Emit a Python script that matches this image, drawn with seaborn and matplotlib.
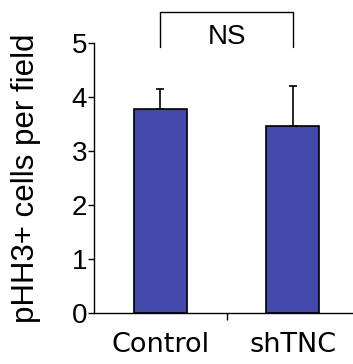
import matplotlib
matplotlib.use("Agg")
import matplotlib.pyplot as plt
import seaborn as sns
import pandas as pd

groups = ["Control", "shTNC"]
means = [3.78, 3.47]
errors = [0.37, 0.74]
yticks = [0, 1, 2, 3, 4, 5]
sig_label = "NS"

sns.set_style("white")
plt.rcParams["font.family"] = ["Liberation Sans", "DejaVu Sans"]
plt.rcParams["text.color"] = "black"
plt.rcParams["axes.labelcolor"] = "black"
plt.rcParams["xtick.color"] = "black"
plt.rcParams["ytick.color"] = "black"

df = pd.DataFrame({"group": groups, "value": means})

fig = plt.figure(figsize=(3.53, 3.64), dpi=100)
ax = fig.add_axes([94 / 353, 51 / 364, 265 / 353, 270 / 364])

sns.barplot(data=df, x="group", y="value", color="#4349A8", width=0.4,
            edgecolor="black", linewidth=1.2, saturation=1, errorbar=None, ax=ax)
ax.errorbar(range(len(groups)), means, yerr=[[0] * len(groups), errors],
            fmt="none", ecolor="black", elinewidth=1.2, capsize=3, capthick=1.2)

ax.set_xlim(-0.5, 1.5)
ax.set_ylim(0, 5)
ax.set_yticks(yticks)
ax.tick_params(axis="y", direction="out", length=4, width=1, labelsize=20, pad=1, left=True,
               colors="black")
ax.set_xticks(range(len(groups)))
ax.set_xticklabels(groups, fontsize=19.5, family="DejaVu Sans", color="black")
ax.tick_params(axis="x", which="major", length=0, pad=14)
ax.set_xticks([0.5], minor=True)
ax.tick_params(axis="x", which="minor", direction="out", length=5, width=1, bottom=True)

sns.despine(ax=ax, top=True, right=True)
for s in ["left", "bottom"]:
    ax.spines[s].set_color("black")
    ax.spines[s].set_linewidth(1)

ax.set_xlabel("")
ax.set_ylabel("pHH3+ cells per field", fontsize=22.5, labelpad=22, color="black")

# significance bracket
yb, yt = 4.93, 5.58
ax.plot([0, 0, 1, 1], [yb, yt, yt, yb], color="black", lw=1, clip_on=False)
ax.text(0.5, 5.11, sig_label, ha="center", va="center", fontsize=20, color="black")

fig.savefig("out.png", dpi=100)
